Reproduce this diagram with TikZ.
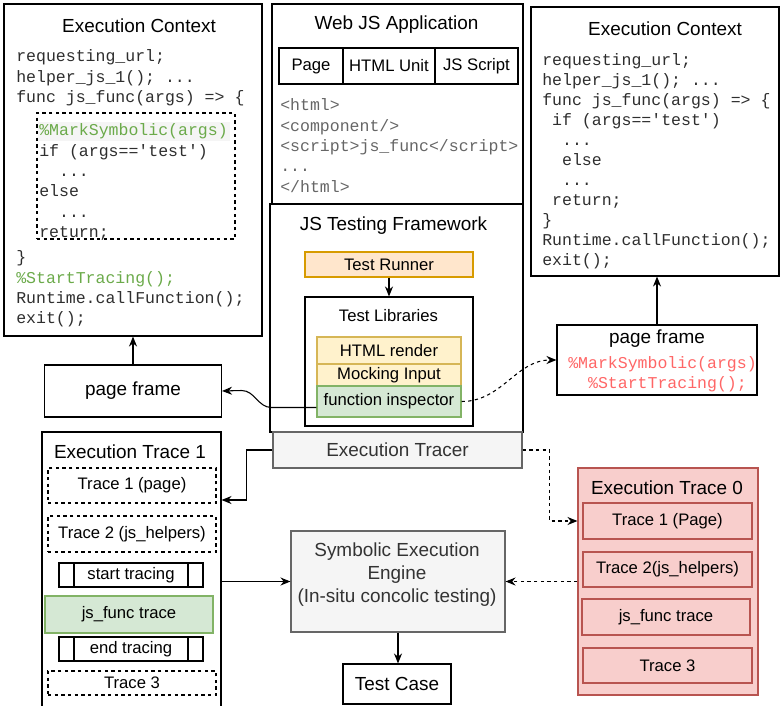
\documentclass[tikz,border=0pt]{standalone}
\usepackage{fontspec}
\setmainfont{Liberation Sans}
\newfontfamily\codefont{Liberation Mono}
\usetikzlibrary{arrows.meta}
\definecolor{runnerfill}{HTML}{FFE6CC}
\definecolor{runnerdraw}{HTML}{D79B00}
\definecolor{libfill}{HTML}{FFF2CC}
\definecolor{libdraw}{HTML}{D6B656}
\definecolor{inspfill}{HTML}{D5E8D4}
\definecolor{inspdraw}{HTML}{82B366}
\definecolor{enginefill}{HTML}{F5F5F5}
\definecolor{enginedraw}{HTML}{666666}
\definecolor{enginetext}{HTML}{333333}
\definecolor{tracefill}{HTML}{F8CECC}
\definecolor{tracedraw}{HTML}{B85450}
\definecolor{markgreen}{RGB}{107,170,74}
\definecolor{markred}{HTML}{FF6666}
\definecolor{htmlgrey}{HTML}{666666}
\definecolor{codegrey}{HTML}{2E2E2E}
\newcommand{\titlefont}{\fontsize{14.2}{17}\selectfont}
\newcommand{\labelfont}{\fontsize{12.5}{15}\selectfont}
\newcommand{\codesize}{\codefont\fontsize{12.4}{15}\selectfont}
\newcommand{\codewide}{\codefont\fontsize{12.4}{15.2}\selectfont}

\begin{document}
\begin{tikzpicture}[x=0.75pt, y=-0.75pt,
    box/.style 2 args={draw, line width=0.8pt, inner sep=0pt, minimum width=#1*0.75pt, minimum height=#2*0.75pt},
    title/.style={font=\titlefont, inner sep=0pt},
    lbl/.style={font=\labelfont},
    code/.style={font=\codesize, text=codegrey, align=left, anchor=north west, inner sep=0pt},
    dashbox/.style={dash pattern=on 2.5pt off 2.5pt},
    dashline/.style={dash pattern=on 2.5pt off 2.5pt},
    procbox/.style={fill=white, path picture={
        \draw ([xshift=11.25pt]path picture bounding box.north west) -- ([xshift=11.25pt]path picture bounding box.south west);
        \draw ([xshift=-11.25pt]path picture bounding box.north east) -- ([xshift=-11.25pt]path picture bounding box.south east);}},
    arr/.style={-{Stealth[length=7.5pt,width=6pt]}, line width=0.8pt}
]
\useasboundingbox (0,0) rectangle (781,706);
\clip (0,0) rectangle (781,706);

% left execution context
\node[box={258}{332}] (ctxL) at (133,170) {};
\node[title] (ctxLtitle) at (139,26) {Execution Context};
\fill[enginefill] (38,122) rectangle (230,141);
\node[box={198}{126}, dashbox] (condL) at (136,176) {};
\node[code, font=\codewide] (codeLhead) at (16,47.5) {\strut requesting\_url;\\helper\_js\_1(); ...\\func js\_func(args) => \{};
\node[code, font=\codewide] (codeLbody) at (39,121.5) {\strut\textcolor{markgreen}{\%MarkSymbolic(args)}\\if (args=='test')\\\hspace*{1.2em}...\\else\\\hspace*{1.2em}...\\return;};
\node[code, font=\codewide] (codeLtail) at (16,248.5) {\strut\}\\\textcolor{markgreen}{\%StartTracing();}\\Runtime.callFunction();\\exit();};

\node[box={177}{52}, font=\titlefont] (pageL) at (133,391) {page frame};
\draw[arr] (pageL.north) -- (ctxL.south);

% web application
\node[box={251}{200}] (app) at (397.5,104) {};
\node[title] (apptitle) at (396.5,25) {Web JS Application};
\node[box={64}{36}, lbl] (cellpage) at (311,66) {Page};
\node[box={92}{36}, lbl] (cellunit) at (389,66) {HTML Unit};
\node[box={83}{36}, lbl] (cellscript) at (476.5,66) {JS Script};
\node[code, font=\codewide, text=htmlgrey] (htmlcode) at (280,96.5) {\strut<html>\\<component/>\\<script>js\_func</script>\\...\\</html>};

% testing framework
\node[box={253}{228}] (frame) at (396.5,318) {};
\node[title] (frametitle) at (393.5,226) {JS Testing Framework};
\node[box={168}{25}, lbl, fill=runnerfill, draw=runnerdraw] (runner) at (389,264.5) {Test Runner};
\node[box={168}{129}] (libs) at (389,361.5) {};
\node[lbl, inner sep=0pt] (libstitle) at (388.5,316) {Test Libraries};
\node[box={144}{27}, lbl, fill=libfill, draw=libdraw] (render) at (389,350.5) {HTML render};
\node[box={144}{22}, lbl, fill=libfill, draw=libdraw] (mocking) at (389,375) {Mocking Input};
\node[box={144}{31}, lbl, fill=inspfill, draw=inspdraw] (insp) at (389,401.5) {function inspector};
\draw[arr] (runner) -- (libs);

\node[box={249}{36}, fill=enginefill, draw=enginedraw, text=enginetext, font=\titlefont] (tracer) at (397.5,450) {Execution Tracer};

% right execution context
\node[box={248}{269}] (ctxR) at (655,141.5) {};
\node[title] (ctxRtitle) at (665,29) {Execution Context};
\node[code] (codeR) at (542,51.5) {\strut requesting\_url;\\helper\_js\_1(); ...\\func js\_func(args) => \{\\\hspace*{0.6em}if (args=='test')\\\hspace*{1.2em}...\\\hspace*{1.2em}else\\\hspace*{1.2em}...\\\hspace*{0.6em}return;\\\}\\Runtime.callFunction();\\exit();};

\node[box={200}{70}] (pageR) at (657,360) {};
\node[title] (pageRtitle) at (657,339) {page frame};
\node[code, text=markred] (pageRcode) at (568,354.5) {\strut\%MarkSymbolic(args)\\\hspace*{1.2em}\%StartTracing();};
\draw[arr] (pageR.north) -- (pageR.north |- ctxR.south);

\draw[arr] ([yshift=-4.5pt]insp.west) -- ++(-45,0) to[out=180,in=0] ++(-30,-17) -- (pageL.east);
\draw[arr, dashline] (insp.east) to[out=0,in=180] (pageR.west);

% execution trace 1
\node[box={179}{280}] (et1) at (131.5,572) {};
\node[title] (et1title) at (130,452) {Execution Trace 1};
\node[box={168}{35}, lbl, dashbox] (t11) at (132,485.5) {Trace 1 (page)};
\node[box={168}{36}, lbl, dashbox] (t12) at (132,534) {Trace 2 (js\_helpers)};
\node[box={144}{24}, lbl, procbox] (tstart) at (131,575) {start tracing};
\node[box={168}{37}, lbl, fill=inspfill, draw=inspdraw] (t1func) at (129,614.5) {js\_func trace};
\node[box={144}{24}, lbl, procbox] (tend) at (131,649) {end tracing};
\node[box={168}{24}, lbl, dashbox] (t13) at (132,683) {Trace 3};

% symbolic engine
\node[box={214}{101}, fill=enginefill, draw=enginedraw] (engine) at (398,581.5) {};
\node[title, text=enginetext, align=center] (engtxt) at (397,574.5) {Symbolic Execution\\Engine\\(In-situ concolic testing)};
\node[box={108}{40}, font=\titlefont] (testcase) at (397,684) {Test Case};

% execution trace 0
\node[box={180}{227}, fill=tracefill, draw=tracedraw] (et0) at (668,581.5) {};
\node[title] (et0title) at (667,488) {Execution Trace 0};
\node[box={169}{36}, lbl, fill=tracefill, draw=tracedraw] (t01) at (667.5,521) {Trace 1 (Page)};
\node[box={169}{35}, lbl, fill=tracefill, draw=tracedraw] (t02) at (667.5,569.5) {Trace 2(js\_helpers)};
\node[box={168}{36}, lbl, fill=tracefill, draw=tracedraw] (t0func) at (666,617) {js\_func trace};
\node[box={169}{35}, lbl, fill=tracefill, draw=tracedraw] (t03) at (667.5,665.5) {Trace 3};

\draw[arr] (tracer.west) -- ++(-26,0) |- ([yshift=54pt]et1.east);
\draw[arr, dashline] (tracer.east) -- ++(27,0) |- (t01.west -| et0.west);
\draw[arr] (et1.east |- engine.west) -- (engine.west);
\draw[arr, dashline] (et0.west) -- (engine.east);
\draw[arr] (engine.south) -- (engine.south |- testcase.north);

\end{tikzpicture}
\end{document}
